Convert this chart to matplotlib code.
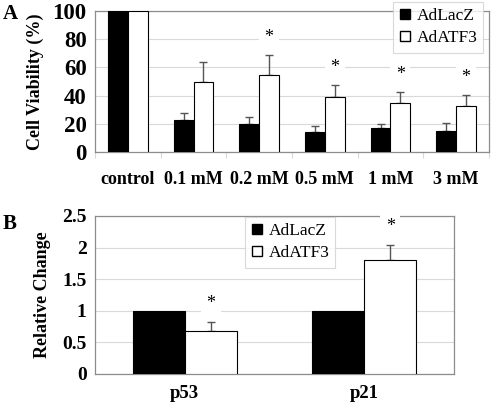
import numpy as np
import matplotlib
matplotlib.use("Agg")
import matplotlib.pyplot as plt
from matplotlib.lines import Line2D

plt.rcParams["font.family"] = ["Liberation Serif", "DejaVu Serif"]

# panel A: cell viability
doses = ["control", "0.1 mM", "0.2 mM", "0.5 mM", "1 mM", "3 mM"]
lacz_a = [100, 22.5, 20, 14.5, 17, 15]
lacz_a_err = [0, 5, 5, 4, 2.6, 5.4]
atf3_a = [100, 50, 54.5, 39, 34.5, 32.5]
atf3_a_err = [0, 14, 14.5, 8.2, 7.8, 8]
star_a = [False, False, True, True, True, True]

# panel B: relative change
genes = ["p53", "p21"]
lacz_b = [1.0, 1.0]
lacz_b_err = [0, 0]
atf3_b = [0.68, 1.8]
atf3_b_err = [0.14, 0.24]
star_b = [True, True]

GRID = "#d9d9d9"
SPINE = "#8c8c8c"
ERR = "#555555"

fig = plt.figure(figsize=(4.92, 4.04), dpi=100)
W, H = 492.0, 404.0


def axes_px(l, t, r, b):
    return fig.add_axes([l / W, (H - b) / H, (r - l) / W, (b - t) / H])


def draw(ax, cats, s1, e1, s2, e2, stars, ymax, ystep, star_off, bw):
    n = len(cats)
    cx = np.arange(n) + 0.5
    ax.bar(cx - bw / 2, s1, bw, color="black", edgecolor="black", lw=0.8, zorder=3)
    ax.bar(cx + bw / 2, s2, bw, color="white", edgecolor="black", lw=0.8, zorder=3)
    for x, v, e in zip(cx - bw / 2, s1, e1):
        if e > 0:
            ax.errorbar(x, v, yerr=[[0], [e]], color=ERR, capsize=3, lw=1, zorder=2)
    for x, v, e, s in zip(cx + bw / 2, s2, e2, stars):
        if e > 0:
            ax.errorbar(x, v, yerr=[[0], [e]], color=ERR, capsize=3, lw=1, zorder=2)
        if s:
            ax.text(x, v + e + star_off, "*", ha="center", va="center", fontsize=13,
                    zorder=4, bbox=dict(fc="white", ec="none", pad=4))
    ax.set_xlim(0, n)
    ax.set_ylim(0, ymax)
    ax.set_yticks(np.arange(0, ymax + ystep / 2, ystep))
    ax.yaxis.grid(True, color=GRID, lw=0.8, zorder=0)
    ax.set_axisbelow(True)
    for sp in ax.spines.values():
        sp.set_color(SPINE)
        sp.set_linewidth(0.9)
    ax.tick_params(axis="y", length=0, pad=6)
    return cx


def legend(ax, anchor, fs):
    h = [Line2D([], [], ls="none", marker="s", ms=6.5, mfc="black", mec="black"),
         Line2D([], [], ls="none", marker="s", ms=6.5, mfc="white", mec="black")]
    lg = ax.legend(h, ["AdLacZ", "AdATF3"], loc="upper left",
                   bbox_to_anchor=(anchor[0] / W, 1 - anchor[1] / H),
                   bbox_transform=fig.transFigure,
                   prop={"family": ["Liberation Serif", "DejaVu Serif"], "size": fs},
                   frameon=True, fancybox=False, edgecolor="#d0d0d0",
                   handlelength=0.7, handletextpad=0.3, borderpad=0.35,
                   labelspacing=0.35, borderaxespad=0)
    lg.get_frame().set_linewidth(0.8)
    lg.set_zorder(5)


# ---- A
axA = axes_px(95, 11, 489, 152)
cx = draw(axA, doses, lacz_a, lacz_a_err, atf3_a, atf3_a_err, star_a, 100, 20, 12.5, 0.3)
axA.set_xticks(np.arange(len(doses) + 1))
axA.set_xticklabels([])
axA.tick_params(axis="x", which="major", length=4, color=GRID, direction="out")
axA.set_xticks(cx, minor=True)
axA.set_xticklabels(doses, minor=True, fontsize=13, fontweight="bold")
axA.tick_params(axis="x", which="minor", length=0, pad=14)
for t in axA.get_yticklabels():
    t.set_fontsize(16.5)
    t.set_fontweight("bold")
axA.set_ylabel("Cell Viability (%)", fontsize=13, fontweight="bold", labelpad=6)
legend(axA, (393, 2), 12.5)

# ---- B
axB = axes_px(95, 216, 454, 374)
cx = draw(axB, genes, lacz_b, lacz_b_err, atf3_b, atf3_b_err, star_b, 2.5, 0.5, 0.3, 0.29)
axB.set_xticks(cx)
axB.set_xticklabels(genes, fontsize=13.5, fontweight="bold")
axB.tick_params(axis="x", length=0, pad=8)
axB.set_yticklabels(["0", "0.5", "1", "1.5", "2", "2.5"], fontsize=14, fontweight="bold")
axB.set_ylabel("Relative Change", fontsize=13, fontweight="bold", labelpad=8)
legend(axB, (245, 217), 12.5)

fig.text(3 / W, 1 - 14 / H, "A", fontsize=15, fontweight="bold", va="center")
fig.text(3 / W, 1 - 224 / H, "B", fontsize=15, fontweight="bold", va="center")

fig.savefig("out.png", dpi=100)
